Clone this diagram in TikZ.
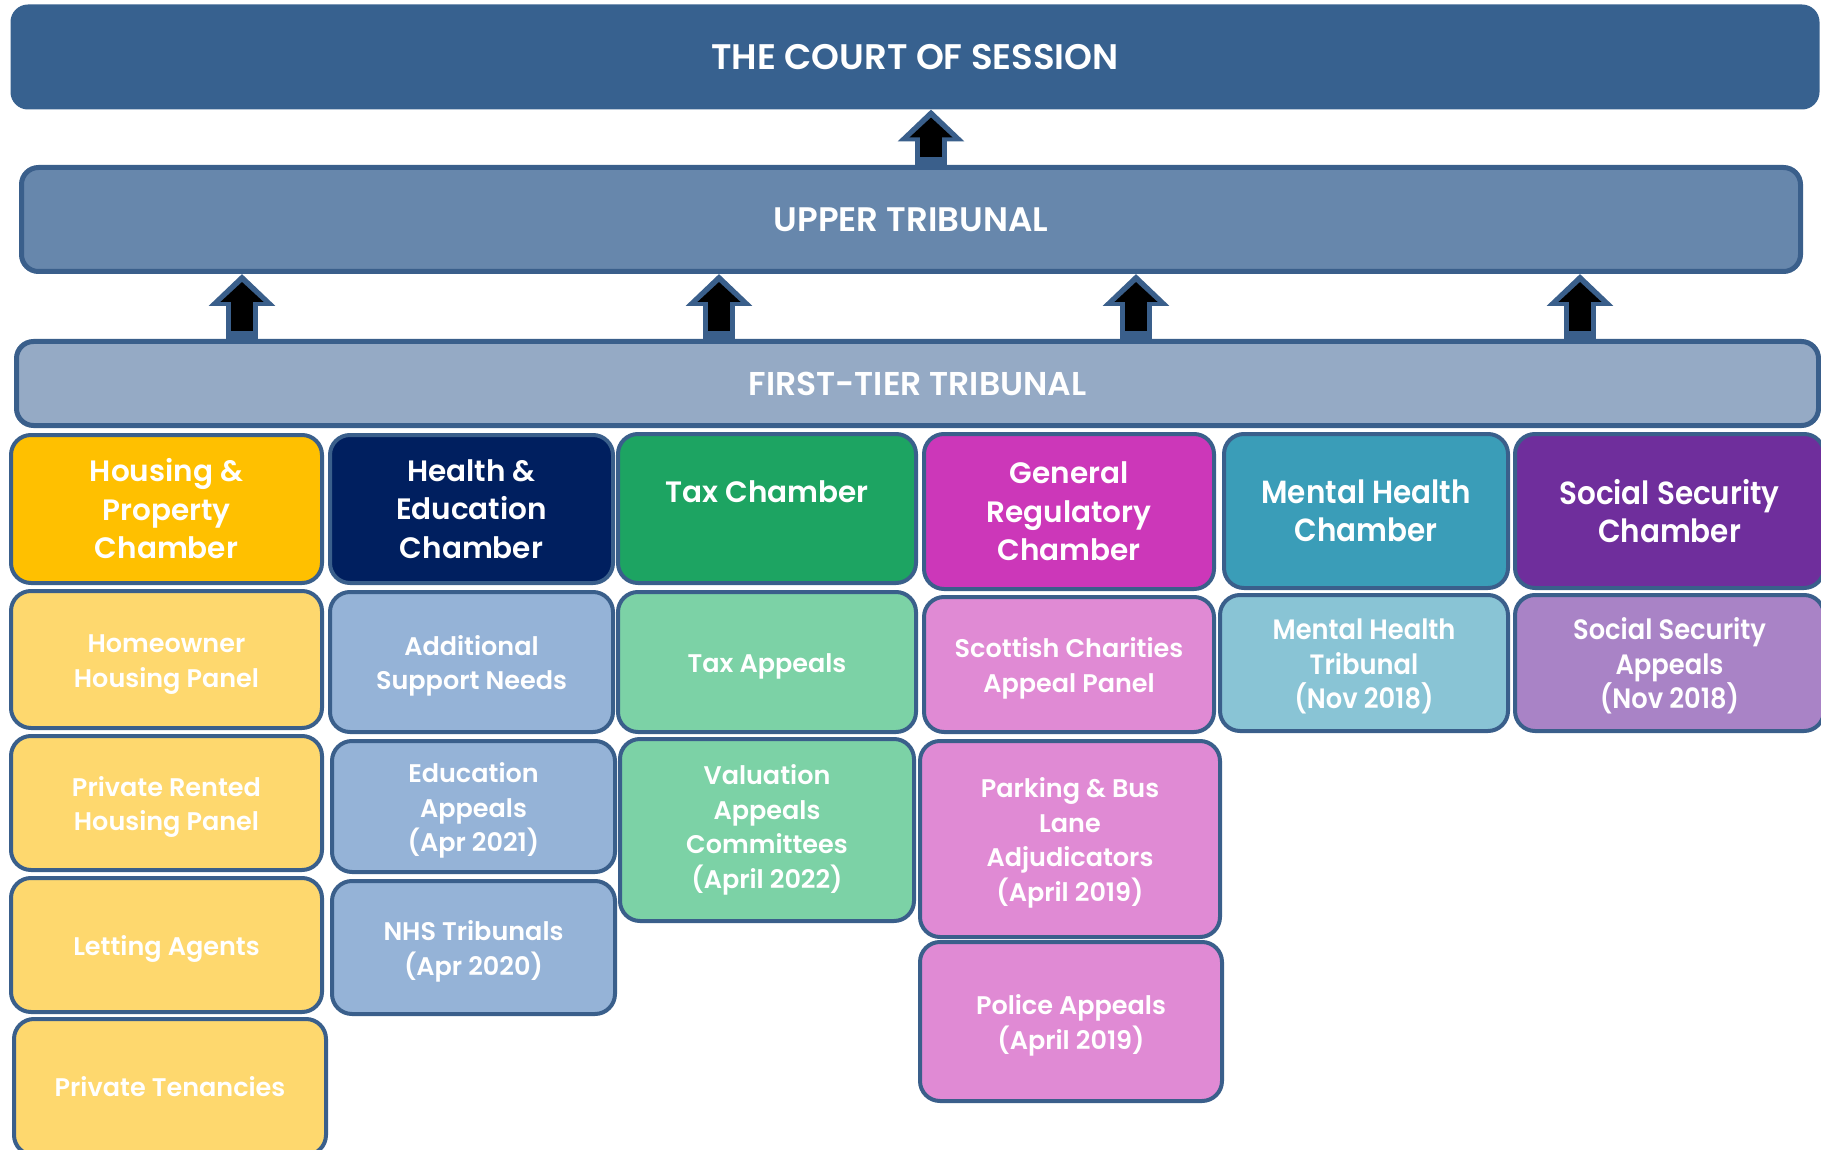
\documentclass[tikz,border=0pt]{standalone}
\usepackage{fontspec}
\setmainfont{Poppins}[BoldFont={* SemiBold}]
\newfontfamily\condfont{Poppins}[BoldFont={* SemiBold}, FakeStretch=0.92]
\usetikzlibrary{arrows.meta}
\newcommand{\tp}{\rule{0pt}{28pt}}
\definecolor{edge}{HTML}{3A5F8B}
\definecolor{court}{HTML}{37618F}
\definecolor{upper}{HTML}{6787AC}
\definecolor{first}{HTML}{95AAC5}
\definecolor{housing}{HTML}{FFC000}
\definecolor{housingsub}{HTML}{FED86E}
\definecolor{health}{HTML}{001F5F}
\definecolor{healthsub}{HTML}{95B3D7}
\definecolor{tax}{HTML}{1DA462}
\definecolor{taxsub}{HTML}{7CD2A6}
\definecolor{general}{HTML}{CC37B9}
\definecolor{generalsub}{HTML}{E08AD4}
\definecolor{mental}{HTML}{3A9DB8}
\definecolor{mentalsub}{HTML}{89C4D5}
\definecolor{social}{HTML}{6F2E9C}
\definecolor{socialsub}{HTML}{A983C6}
\begin{document}
\begin{tikzpicture}[x=1pt,y=-1pt,
  box/.style={draw=edge, line width=4pt, rounded corners=20pt, align=center,
    text=white, inner sep=0pt},
  bar/.style={box, line width=5pt, rounded corners=17pt,
    font=\fontsize{34}{40}\selectfont\bfseries},
  chamber/.style={box, font=\fontsize{29.5}{38.5}\selectfont\bfseries},
  panel/.style={box, font=\fontsize{25.5}{34.5}\selectfont\bfseries},
  cchamber/.style={chamber, font=\fontsize{32}{38.5}\condfont\bfseries},
  cpanel/.style={panel, font=\fontsize{28}{34.5}\condfont\bfseries},
  arrout/.style={draw=edge, line width=32pt, -{Triangle[length=32pt,width=65pt]}},
  arrin/.style={draw=black, line width=22pt, shorten >=8pt, shorten <=8pt,
    -{Triangle[length=20pt,width=42pt]}}]
  \useasboundingbox (0,0) rectangle (1821,1150);
  % tribunals
  \node[bar, fill=court, draw=court, rounded corners=15pt, font=\fontsize{35.5}{40}\selectfont\bfseries, minimum width=1804pt, minimum height=100pt] (cs) at (915,57) {THE COURT OF SESSION};
  \node[bar, fill=upper, minimum width=1779pt, minimum height=104pt] (ut) at (911,219.5) {UPPER TRIBUNAL};
  \node[bar, fill=first, font=\fontsize{33}{40}\selectfont\bfseries, minimum width=1802pt, minimum height=84pt] (ft) at (917.5,383.5) {FIRST-TIER TRIBUNAL};
  % appeals go up
  \foreach \x in {242, 719, 1136, 1580} {
    \draw[arrout] (\x,0 |- ft.north) -- (\x,0 |- ut.south);
    \draw[arrin] (\x,0 |- ft.north) -- (\x,0 |- ut.south);
  }
  \draw[arrout] (931,0 |- ut.north) -- (931,0 |- cs.south);
  \draw[arrin] (931,0 |- ut.north) -- (931,0 |- cs.south);
  % chambers
  \node[chamber, fill=housing, minimum width=311pt, minimum height=148pt] (hpc) at (166.5,509) {Housing \&\\Property\\Chamber};
  \node[chamber, fill=health, minimum width=283pt, minimum height=148pt] (hec) at (471.5,509) {Health \&\\Education\\Chamber};
  \node[chamber, fill=tax, minimum width=298pt, minimum height=149pt] (tc) at (767,508.5) {Tax Chamber\\[-16pt] \strut};
  \node[chamber, fill=general, minimum width=290pt, minimum height=155pt] (grc) at (1069,511.5) {General\\Regulatory\\Chamber};
  \node[cchamber, fill=mental, minimum width=284pt, minimum height=154pt] (mhc) at (1366,511) {Mental Health\\Chamber};
  \node[cchamber, fill=social, minimum width=309pt, minimum height=154pt] (ssc) at (1669.5,511) {Social Security\\Chamber};
  % housing & property
  \node[panel, fill=housingsub, minimum width=311pt, minimum height=137pt] (hhp) at (166.5,659.5) {\tp Homeowner\\Housing Panel};
  \node[panel, fill=housingsub, minimum width=311pt, minimum height=134pt] (prhp) at (166.5,803) {\tp Private Rented\\Housing Panel};
  \node[panel, fill=housingsub, minimum width=311pt, minimum height=134pt] (la) at (166.5,945) {\tp Letting Agents};
  \node[panel, fill=housingsub, minimum width=312pt, minimum height=136pt] (pt) at (170,1087) {Private Tenancies};
  % health & education
  \node[panel, fill=healthsub, minimum width=283pt, minimum height=140pt] (asn) at (471.5,662) {\tp Additional\\Support Needs};
  \node[panel, fill=healthsub, minimum width=283pt, minimum height=131pt] (ea) at (473.5,806.5) {\tp Education\\Appeals\\(Apr 2021)};
  \node[panel, fill=healthsub, minimum width=283pt, minimum height=133pt] (nhs) at (473.5,947.5) {\tp NHS Tribunals\\(Apr 2020)};
  % tax
  \node[panel, fill=taxsub, minimum width=298pt, minimum height=140pt] (ta) at (767,662) {\tp Tax Appeals};
  \node[panel, fill=taxsub, minimum width=294pt, minimum height=182pt] (vac) at (767,830) {Valuation\\Appeals\\Committees\\(April 2022)};
  % general regulatory
  \node[panel, fill=generalsub, minimum width=290pt, minimum height=135pt] (scap) at (1069,664.5) {\tp Scottish Charities\\Appeal Panel};
  \node[panel, fill=generalsub, minimum width=300pt, minimum height=196pt] (pbl) at (1070,839) {\tp Parking \& Bus\\Lane\\Adjudicators\\(April 2019)};
  \node[panel, fill=generalsub, minimum width=302pt, minimum height=159pt] (pa) at (1071,1021.5) {\tp Police Appeals\\(April 2019)};
  % mental health, social security
  \node[cpanel, fill=mentalsub, minimum width=288pt, minimum height=136pt] (mht) at (1364,663) {\tp Mental Health\\Tribunal\\(Nov 2018)};
  \node[cpanel, fill=socialsub, minimum width=309pt, minimum height=136pt] (ssa) at (1669.5,663) {\tp Social Security\\Appeals\\(Nov 2018)};
\end{tikzpicture}
\end{document}
